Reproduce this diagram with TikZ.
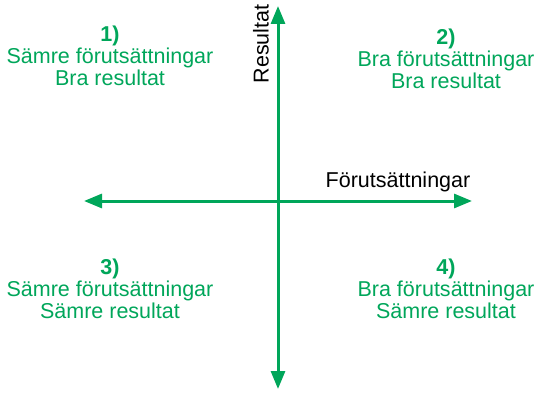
\documentclass[tikz,border=0pt]{standalone}
\usepackage{fontspec}
\setmainfont{Liberation Sans}
\usetikzlibrary{arrows.meta}
\definecolor{qgreen}{RGB}{0,166,90}
\begin{document}
\begin{tikzpicture}[x=1pt,y=-1pt,
  axis/.style={draw=qgreen,line width=3pt,-{Triangle[length=18pt,width=14pt]}},
  quad/.style={text=qgreen,align=center,font=\fontsize{21.5}{22}\selectfont},
  axlabel/.style={text=black,font=\fontsize{21.5}{22}\selectfont}]
\useasboundingbox (0,0) rectangle (538,393);
\coordinate (c) at (278,201);
\coordinate (top) at (278,6);
\coordinate (bot) at (278,389);
\coordinate (left) at (84,201);
\coordinate (right) at (472,201);
\draw[axis] (c) -- (top);
\draw[axis] (c) -- (bot);
\draw[axis] (c) -- (left);
\draw[axis] (c) -- (right);
\node[quad] (q1) at (110,56) {\textbf{1)}\\Sämre förutsättningar\\Bra resultat};
\node[quad] (q2) at (446,59) {\textbf{2)}\\Bra förutsättningar\\Bra resultat};
\node[quad] (q3) at (110,289) {\textbf{3)}\\Sämre förutsättningar\\Sämre resultat};
\node[quad] (q4) at (446,289) {\textbf{4)}\\Bra förutsättningar\\Sämre resultat};
\node[axlabel,rotate=90] (ly) at (261,44) {Resultat};
\node[axlabel] (lx) at (398,182) {Förutsättningar};
\end{tikzpicture}
\end{document}
